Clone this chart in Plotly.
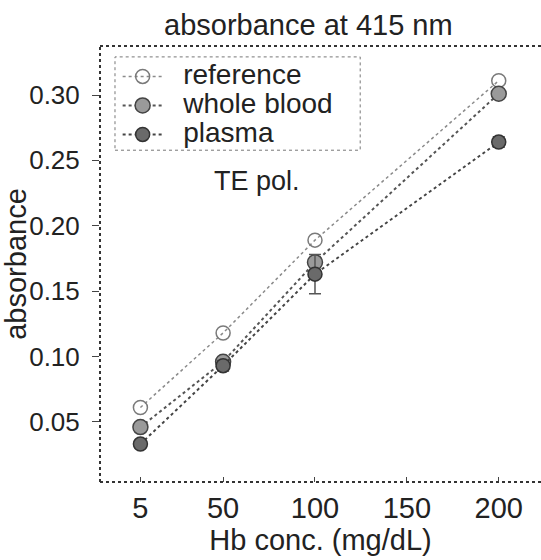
import plotly.graph_objects as go

hb_conc = [5, 50, 100, 200]
reference = [0.061, 0.118, 0.189, 0.311]
whole_blood = [0.046, 0.096, 0.172, 0.301]
plasma = [0.033, 0.093, 0.163, 0.264]
plasma_err = [0.003, 0.004, 0.015, 0.004]
x_ticks = [5, 50, 100, 150, 200]
y_ticks = [0.05, 0.10, 0.15, 0.20, 0.25, 0.30]
series_names = ["reference", "whole blood", "plasma"]

FONT = "Liberation Sans, Arial, sans-serif"
INK = "#222222"


def legend_label(s):
    return '<span style="font-size:28px">\u00a0\u00a0' + s + '</span>'


fig = go.Figure()
fig.add_trace(go.Scatter(
    x=hb_conc, y=reference, name=legend_label(series_names[0]), mode="lines+markers",
    line=dict(color="#8a8a8a", width=1.5, dash="dot"),
    marker=dict(symbol="circle-open", size=14, color="#7a7a7a", line=dict(width=1.5)),
))
fig.add_trace(go.Scatter(
    x=hb_conc, y=whole_blood, name=legend_label(series_names[1]), mode="lines+markers",
    line=dict(color="#555555", width=2, dash="dot"),
    marker=dict(symbol="circle", size=15, color="#9a9a9a", line=dict(color="#444444", width=1.5)),
))
fig.add_trace(go.Scatter(
    x=hb_conc, y=plasma, name=legend_label(series_names[2]), mode="lines+markers",
    line=dict(color="#444444", width=2, dash="dot"),
    marker=dict(symbol="circle", size=14, color="#6a6a6a", line=dict(color="#333333", width=1.5)),
    error_y=dict(type="data", array=plasma_err, color="#555555", thickness=1.5, width=6),
))

fig.update_layout(
    width=541, height=560,
    margin=dict(l=100, r=0, t=46, b=78),
    paper_bgcolor="white", plot_bgcolor="white",
    font=dict(family=FONT, size=28, color=INK),
    title=dict(text="absorbance at 415 nm", x=0.57, xanchor="center", y=0.955, yanchor="middle",
               font=dict(family=FONT, size=29, color=INK)),
    showlegend=True,
    legend=dict(x=0.04, y=0.975, xanchor="left", yanchor="top",
                bgcolor="rgba(0,0,0,0)", borderwidth=0,
                font=dict(family=FONT, size=20, color=INK),
                tracegroupgap=0, itemwidth=40),
    xaxis=dict(range=[-17, 223], tickvals=x_ticks, ticks="inside", ticklen=5,
               tickcolor="#444", showgrid=False, zeroline=False, showline=False,
               automargin=False, ticklabelstandoff=6,
               title=dict(text="Hb conc. (mg/dL)", standoff=0, font=dict(size=29)),
               tickfont=dict(size=29)),
    yaxis=dict(range=[0.004, 0.3375], tickvals=y_ticks, tickformat=".2f", ticks="outside",
               ticklen=7, tickcolor="#444", showgrid=False, zeroline=False, showline=False,
               automargin=False, ticklabelstandoff=7,
               title=dict(text="absorbance", standoff=0, font=dict(size=29)),
               tickfont=dict(size=26)),
    annotations=[dict(text="TE pol.", x=0.357, y=0.69, xref="paper", yref="paper",
                      xanchor="center", yanchor="middle",
                      showarrow=False, font=dict(family=FONT, size=27, color=INK))],
    shapes=[
        dict(type="line", xref="paper", yref="paper", x0=0, x1=1, y0=1, y1=1,
             line=dict(color="#333333", width=2, dash="dot")),
        dict(type="line", xref="paper", yref="paper", x0=0, x1=1, y0=0, y1=0,
             line=dict(color="#333333", width=2, dash="dot")),
        dict(type="line", xref="paper", yref="paper", x0=0, x1=0, y0=0, y1=1,
             line=dict(color="#333333", width=2, dash="dot")),
        dict(type="rect", xref="paper", yref="paper", x0=0.034, x1=0.59, y0=0.761, y1=0.975,
             line=dict(color="#777777", width=1, dash="dot")),
    ],
)

fig.write_html("out.html", config={"displayModeBar": False},
               post_script="document.body.style.margin='0';")
